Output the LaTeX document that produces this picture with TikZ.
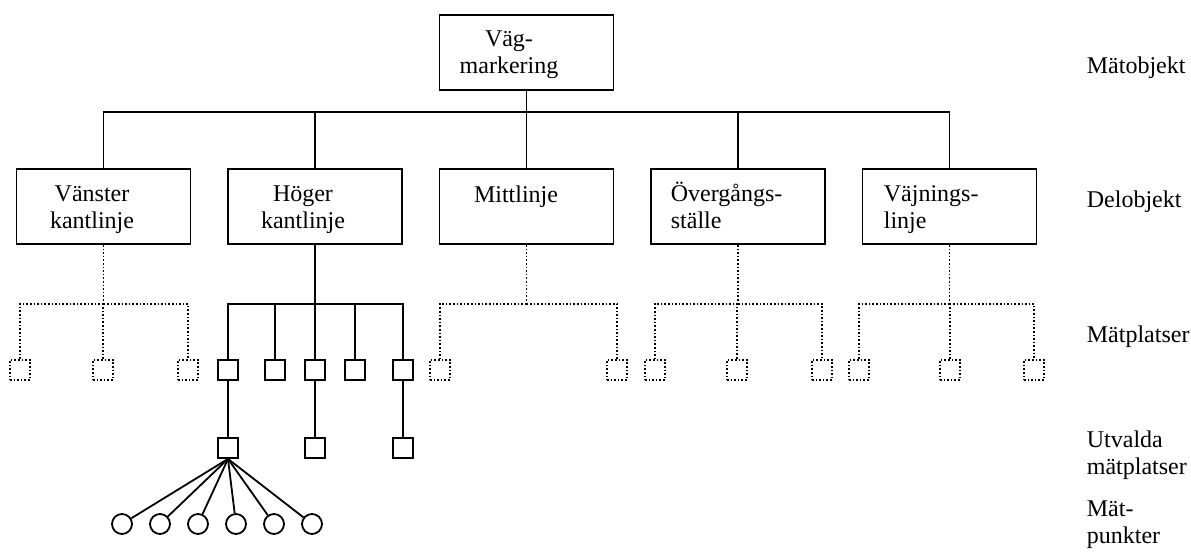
\documentclass[tikz,border=0pt]{standalone}
\usepackage{fontspec}
\setmainfont{Liberation Serif}
\begin{document}
\begin{tikzpicture}[x=0.5pt, y=-0.5pt, node distance={105.75pt}, line width=0.9pt,
    box/.style = {draw, rectangle, minimum width=87pt, minimum height=37.5pt, inner sep=0pt},
    txt/.style = {inner sep=0pt, font=\fontsize{12}{13.2}\selectfont},
    plats/.style = {draw, rectangle, minimum size=10pt, inner sep=0pt},
    prick/.style = {line width=0.8pt, dash pattern=on 0.8pt off 1pt},
    tom/.style = {plats, prick},
    punkt/.style = {draw, circle, minimum size=10pt, inner sep=0pt}]
      \useasboundingbox (0,0) rectangle (1191,557);

      \node[box](vm) at (526.5,52.5) {};

      \node[box](d1) at (103.5,206.5) {};
      \node[box](d2) [right of=d1] {};
      \node[box](d3) [right of=d2] {};
      \node[box](d4) [right of=d3] {};
      \node[box](d5) [right of=d4] {};

      \node[txt, align=center, anchor=base](vm-t) at (509,73) {Väg-\\markering};
      \node[txt, align=center, anchor=base](d1-t) at (92,228) {Vänster\\kantlinje};
      \node[txt, align=center, anchor=base](d2-t) at (303,228) {Höger\\kantlinje};
      \node[txt, anchor=base](d3-t) at (516,202) {Mittlinje};
      \node[txt, align=left, anchor=base west](d4-t) at (670,228) {Övergångs-\\ställe};
      \node[txt, align=left, anchor=base west](d5-t) at (883,228) {Väjnings-\\linje};

      \draw (vm.south) -- ++(0,21) coordinate (buss);
      \foreach \i in {1,...,5}
        \draw (d\i.north) |- (buss);

      % matplatser
      \node[tom](t1a) at (20,370) {};
      \node[tom](t1b) at (103,370) {};
      \node[tom](t1c) at (188,370) {};
      \node[tom](t3a) at (440,370) {};
      \node[tom](t3b) at (617,370) {};
      \node[tom](t4a) at (655,370) {};
      \node[tom](t4b) at (737,370) {};
      \node[tom](t4c) at (822,370) {};
      \node[tom](t5a) at (859,370) {};
      \node[tom](t5b) at (950,370) {};
      \node[tom](t5c) at (1034,370) {};

      \node[plats](p1) at (228,370) {};
      \node[plats](p2) at (275,370) {};
      \node[plats](p3) at (315,370) {};
      \node[plats](p4) at (355,370) {};
      \node[plats](p5) at (403,370) {};

      \node[plats](u1) at (228,448) {};
      \node[plats](u3) at (315,448) {};
      \node[plats](u5) at (403,448) {};

      \node[punkt](c1) at (122,524) {};
      \node[punkt](c2) [right of=c1, node distance=19pt] {};
      \node[punkt](c3) [right of=c2, node distance=19pt] {};
      \node[punkt](c4) [right of=c3, node distance=19pt] {};
      \node[punkt](c5) [right of=c4, node distance=19pt] {};
      \node[punkt](c6) [right of=c5, node distance=19pt] {};

      \draw[prick] (d1.south) -- ++(0,59) coordinate (h1);
      \draw[prick] (d3.south) -- ++(0,59) coordinate (h3);
      \draw[prick] (d4.south) -- ++(0,59) coordinate (h4);
      \draw[prick] (d5.south) -- ++(0,59) coordinate (h5);
      \draw (d2.south) -- ++(0,59) coordinate (h2);

      \foreach \t in {t1a,t1b,t1c}
        \draw[prick] (h1) -| (\t.north);
      \foreach \t in {t3a,t3b}
        \draw[prick] (h3) -| (\t.north);
      \foreach \t in {t4a,t4b,t4c}
        \draw[prick] (h4) -| (\t.north);
      \foreach \t in {t5a,t5b,t5c}
        \draw[prick] (h5) -| (\t.north);
      \foreach \p in {p1,p2,p3,p4,p5}
        \draw (h2) -| (\p.north);

      \path
      (p1) edge (u1)
      (p3) edge (u3)
      (p5) edge (u5)
      ;
      \foreach \i in {1,...,6}
        \draw (u1.south) -- (c\i);

      % nivaer
      \node[txt, anchor=base west](n1) at (1086,74) {Mätobjekt};
      \node[txt, anchor=base west](n2) at (1086,207) {Delobjekt};
      \node[txt, anchor=base west](n3) at (1086,342) {Mätplatser};
      \node[txt, align=left, anchor=base west](n4) at (1086,474) {Utvalda\\mätplatser};
      \node[txt, align=left, anchor=base west](n5) at (1086,543) {Mät-\\punkter};
    \end{tikzpicture}
\end{document}
